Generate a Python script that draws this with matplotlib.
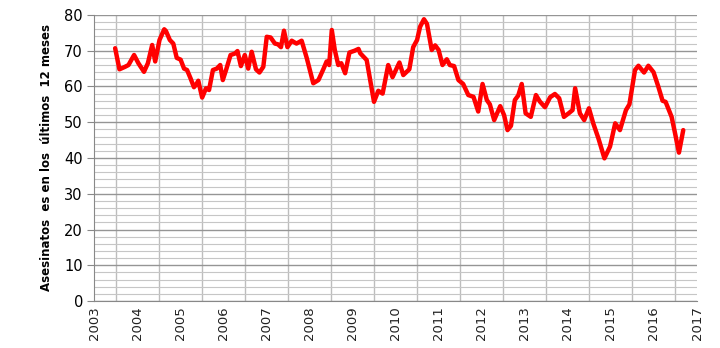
import matplotlib
matplotlib.use("Agg")
import matplotlib.pyplot as plt
import numpy as np

# 12-month rolling count (decimal year, value)
dates = [2003.49, 2003.59, 2003.72, 2003.80, 2003.93, 2004.03, 2004.16, 2004.25,
         2004.35, 2004.42, 2004.52, 2004.63, 2004.67, 2004.76, 2004.84, 2004.92,
         2005.01, 2005.09, 2005.16, 2005.24, 2005.32, 2005.37, 2005.42, 2005.51,
         2005.60, 2005.67, 2005.76, 2005.85, 2005.93, 2005.99, 2006.07, 2006.17,
         2006.27, 2006.33, 2006.41, 2006.50, 2006.58, 2006.66, 2006.76, 2006.84,
         2006.93, 2007.01, 2007.10, 2007.20, 2007.27, 2007.34, 2007.41, 2007.49,
         2007.59, 2007.70, 2007.82, 2007.94, 2008.09, 2008.21, 2008.33, 2008.40,
         2008.46, 2008.52, 2008.59, 2008.67, 2008.74, 2008.83, 2008.93, 2009.05,
         2009.14, 2009.18, 2009.33, 2009.50, 2009.60, 2009.70, 2009.83, 2009.93,
         2010.09, 2010.18, 2010.32, 2010.41, 2010.50, 2010.57, 2010.66, 2010.73,
         2010.84, 2010.92, 2011.00, 2011.09, 2011.19, 2011.26, 2011.36, 2011.46,
         2011.57, 2011.69, 2011.81, 2011.92, 2012.02, 2012.12, 2012.19, 2012.29,
         2012.43, 2012.52, 2012.60, 2012.68, 2012.77, 2012.85, 2012.93, 2013.02,
         2013.14, 2013.26, 2013.35, 2013.47, 2013.59, 2013.70, 2013.80, 2013.91,
         2014.03, 2014.11, 2014.17, 2014.28, 2014.38, 2014.49, 2014.59, 2014.71,
         2014.85, 2014.98, 2015.10, 2015.21, 2015.35, 2015.43, 2015.56, 2015.64,
         2015.77, 2015.87, 2015.99, 2016.10, 2016.20, 2016.27, 2016.41, 2016.49,
         2016.58, 2016.68]
values = [70.7, 64.8, 65.5, 66.0, 68.8, 66.5, 64.1, 66.5,
          71.6, 67.0, 73.0, 76.0, 75.5, 73.0, 72.0, 68.0,
          67.5, 65.0, 64.6, 62.3, 59.8, 60.5, 61.6, 56.9,
          59.5, 59.0, 64.6, 65.0, 66.0, 61.8, 64.8, 68.8,
          69.2, 69.9, 65.7, 68.8, 65.0, 69.7, 64.8, 63.9,
          65.5, 73.9, 73.7, 72.0, 71.8, 71.0, 75.6, 71.0,
          72.8, 72.0, 72.8, 67.9, 60.9, 61.8, 65.0, 67.0,
          66.0, 75.8, 70.2, 66.0, 66.5, 63.7, 69.5, 70.0,
          70.5, 69.3, 67.4, 55.7, 58.8, 58.0, 66.0, 62.6,
          66.7, 63.2, 64.8, 71.0, 73.0, 76.7, 78.8, 77.5,
          70.2, 71.5, 70.2, 66.0, 67.6, 66.0, 65.7, 61.8,
          60.7, 57.6, 57.1, 53.0, 60.7, 56.2, 55.0, 50.6,
          54.5, 52.0, 47.8, 49.0, 56.2, 57.5, 60.7, 52.5,
          51.5, 57.6, 55.8, 54.2, 57.0, 57.9, 56.7, 51.5,
          52.6, 53.4, 59.5, 52.5, 50.6, 53.9, 49.7, 45.5,
          39.9, 43.2, 49.7, 47.8, 53.4, 55.0, 64.6, 65.8,
          63.9, 65.8, 64.0, 60.0, 56.0, 55.7, 51.5, 46.9,
          41.5, 47.8]

years = list(range(2003, 2018))

fig = plt.figure(figsize=(7.2, 3.48), dpi=100)
ax = fig.add_axes([0.1306, 0.135, 0.8375, 0.822])

ax.set_xlim(2003, 2017)
ax.set_ylim(0, 80)

# grid: major every 10, minor every 2, verticals at mid-year
ax.set_yticks(np.arange(0, 81, 10))
ax.set_yticks(np.arange(0, 81, 2), minor=True)
ax.grid(axis="y", which="major", color="#959595", lw=1.0)
ax.grid(axis="y", which="minor", color="#c6c6c6", lw=0.8)
for y in years[:-1]:
    ax.axvline(y + 0.5, color="#bdbdbd", lw=1.0, zorder=0)
ax.set_axisbelow(True)

ax.plot(dates, values, color="#ff0000", lw=3.2, solid_joinstyle="round",
        solid_capstyle="round", zorder=3)

ax.set_xticks(years)
ax.set_xticklabels([str(y) for y in years], rotation=90, fontsize=9.5, color="#222222")
ax.tick_params(axis="x", length=0, pad=4)
ax.tick_params(axis="y", which="major", length=5, color="#888888", labelsize=10.5, pad=3)
ax.tick_params(axis="y", which="minor", length=0)

for s in ["top", "right"]:
    ax.spines[s].set_visible(False)
ax.spines["left"].set_color("#888888")
ax.spines["bottom"].set_color("#888888")

ax.set_ylabel("Asesinatos  es en los  últimos  12 meses", fontsize=8.5,
              fontweight="bold", labelpad=8)

fig.savefig("out.png", dpi=100)
